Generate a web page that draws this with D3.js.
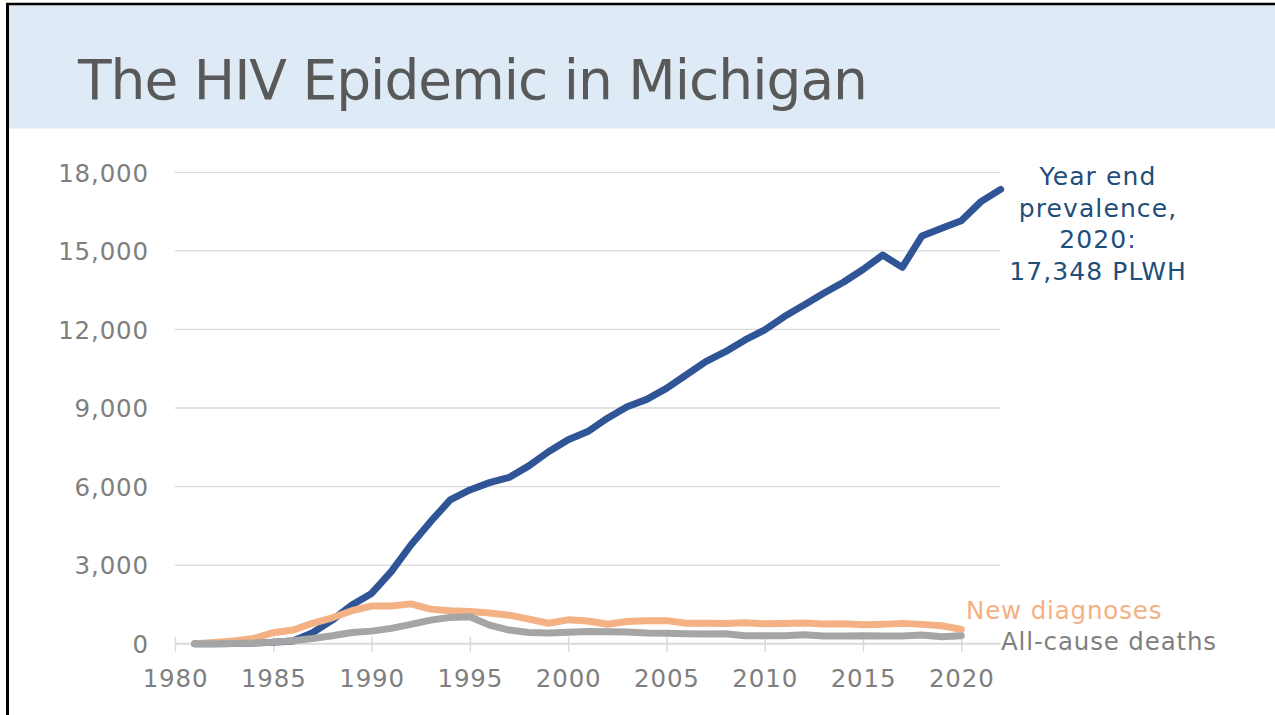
<!DOCTYPE html>
<html>
<head>
<meta charset="utf-8">
<script src="https://cdn.jsdelivr.net/npm/d3@7"></script>
<style>
  html, body { margin: 0; padding: 0; background: #ffffff; }
  svg { display: block; }
  text { font-family: "DejaVu Sans", Verdana, sans-serif; }
</style>
</head>
<body>
<svg id="chart" width="1275" height="715"></svg>
<script>
// ---- data ----
const title = "The HIV Epidemic in Michigan";
const prevYears = [1981,1982,1983,1984,1985,1986,1987,1988,1989,1990,1991,1992,1993,1994,1995,1996,1997,1998,1999,2000,2001,2002,2003,2004,2005,2006,2007,2008,2009,2010,2011,2012,2013,2014,2015,2016,2017,2018,2019,2020,2021,2022];
const prevalence = [0,0,10,30,60,100,420,900,1480,1920,2750,3770,4660,5490,5870,6150,6350,6790,7330,7790,8100,8610,9050,9330,9750,10260,10770,11150,11600,11980,12490,12930,13380,13800,14290,14840,14370,15570,15860,16150,16880,17348];
const rateYears = [1981,1982,1983,1984,1985,1986,1987,1988,1989,1990,1991,1992,1993,1994,1995,1996,1997,1998,1999,2000,2001,2002,2003,2004,2005,2006,2007,2008,2009,2010,2011,2012,2013,2014,2015,2016,2017,2018,2019,2020];
const newDiagnoses = [0,50,100,200,420,520,780,990,1260,1440,1440,1520,1320,1260,1230,1170,1090,940,780,910,865,740,850,875,880,780,780,776,800,765,776,790,750,765,725,738,776,738,687,547];
const deaths = [0,0,10,30,60,115,200,305,430,480,585,740,900,1005,1030,710,520,430,410,440,470,458,445,410,395,382,370,382,305,305,305,344,293,293,305,293,293,331,267,305];
const xTicks = [1980,1985,1990,1995,2000,2005,2010,2015,2020];
const yTicks = [0,3000,6000,9000,12000,15000,18000];
const annotationLines = ["Year end", "prevalence,", "2020:", "17,348 PLWH"];
const seriesLabels = ["New diagnoses", "All-cause deaths"];

// ---- drawing ----
const svg = d3.select("#chart");
const W = 1275, H = 715;
const FS = 24.5, LS = "0.85px";

// slide border + header band
svg.append("rect").attr("x", 0).attr("y", 0).attr("width", W).attr("height", H).attr("fill", "#ffffff");
svg.append("rect").attr("x", 9).attr("y", 5).attr("width", W - 9).attr("height", 123.5).attr("fill", "#DEEAF6");
svg.append("line").attr("x1", 7.5).attr("x2", 7.5).attr("y1", 3).attr("y2", H).attr("stroke", "#000").attr("stroke-width", 3);
svg.append("line").attr("x1", 6).attr("x2", W).attr("y1", 4).attr("y2", 4).attr("stroke", "#000").attr("stroke-width", 2.5);

svg.append("text").attr("x", 78).attr("y", 98.5)
  .attr("font-size", 55).attr("letter-spacing", "-1px").attr("fill", "#595959").text(title);

const x = d3.scaleLinear().domain([1980, 2022]).range([175, 1000.6]);
const y = d3.scaleLinear().domain([0, 18000]).range([643.7, 172.3]);

// gridlines
const grid = svg.append("g");
grid.selectAll("line").data(yTicks.filter(d => d > 0)).join("line")
  .attr("x1", x(1980)).attr("x2", x(2022))
  .attr("y1", d => y(d)).attr("y2", d => y(d))
  .attr("stroke", "#D9D9D9").attr("stroke-width", 1.3);

// y axis labels
const yAxis = d3.axisLeft(y).tickValues(yTicks).tickSize(0).tickPadding(0)
  .tickFormat(d3.format(","));
const gy = svg.append("g").attr("transform", `translate(149,0)`).call(yAxis);
gy.select(".domain").remove();
gy.selectAll("text").attr("font-size", FS).attr("letter-spacing", LS).attr("fill", "#7F7F7F")
  .attr("font-family", "'DejaVu Sans', Verdana, sans-serif").attr("dy", "0.36em");

// x axis
const xAxis = d3.axisBottom(x).tickValues(xTicks).tickSize(8).tickFormat(d3.format("d")).tickPadding(18);
const gx = svg.append("g").attr("transform", `translate(0,${y(0)})`).call(xAxis);
gx.select(".domain").attr("stroke", "#D9D9D9").attr("stroke-width", 2)
  .attr("d", `M${x(1980)},0H${x(2022)}`);
gx.selectAll(".tick line").attr("stroke", "#D9D9D9").attr("stroke-width", 1.5)
  .attr("y1", -7).attr("y2", 8);
gx.selectAll("text").attr("font-size", FS).attr("letter-spacing", LS).attr("fill", "#7F7F7F")
  .attr("font-family", "'DejaVu Sans', Verdana, sans-serif");

// lines
const lineGen = d3.line().x(d => x(d[0])).y(d => y(d[1]));
const lines = [
  {years: prevYears, vals: prevalence, color: "#2F5597"},
  {years: rateYears, vals: newDiagnoses, color: "#F4B183"},
  {years: rateYears, vals: deaths, color: "#A5A5A5"}
];
lines.forEach(s => {
  svg.append("path").datum(s.years.map((yr, i) => [yr, s.vals[i]]))
    .attr("d", lineGen).attr("fill", "none").attr("stroke", s.color)
    .attr("stroke-width", 7).attr("stroke-linejoin", "round").attr("stroke-linecap", "round");
});

// annotation
const ann = svg.append("text").attr("font-size", 25).attr("letter-spacing", "1.1px")
  .attr("fill", "#1F4E79").attr("text-anchor", "middle");
annotationLines.forEach((t, i) => {
  ann.append("tspan").attr("x", 1098).attr("y", 185 + i * 31.7).text(t);
});

svg.append("text").attr("x", 966).attr("y", 619).attr("font-size", FS).attr("letter-spacing", LS)
  .attr("fill", "#F4B183").text(seriesLabels[0]);
svg.append("text").attr("x", 1001).attr("y", 650).attr("font-size", FS).attr("letter-spacing", LS)
  .attr("fill", "#7F7F7F").text(seriesLabels[1]);
</script>
</body>
</html>
